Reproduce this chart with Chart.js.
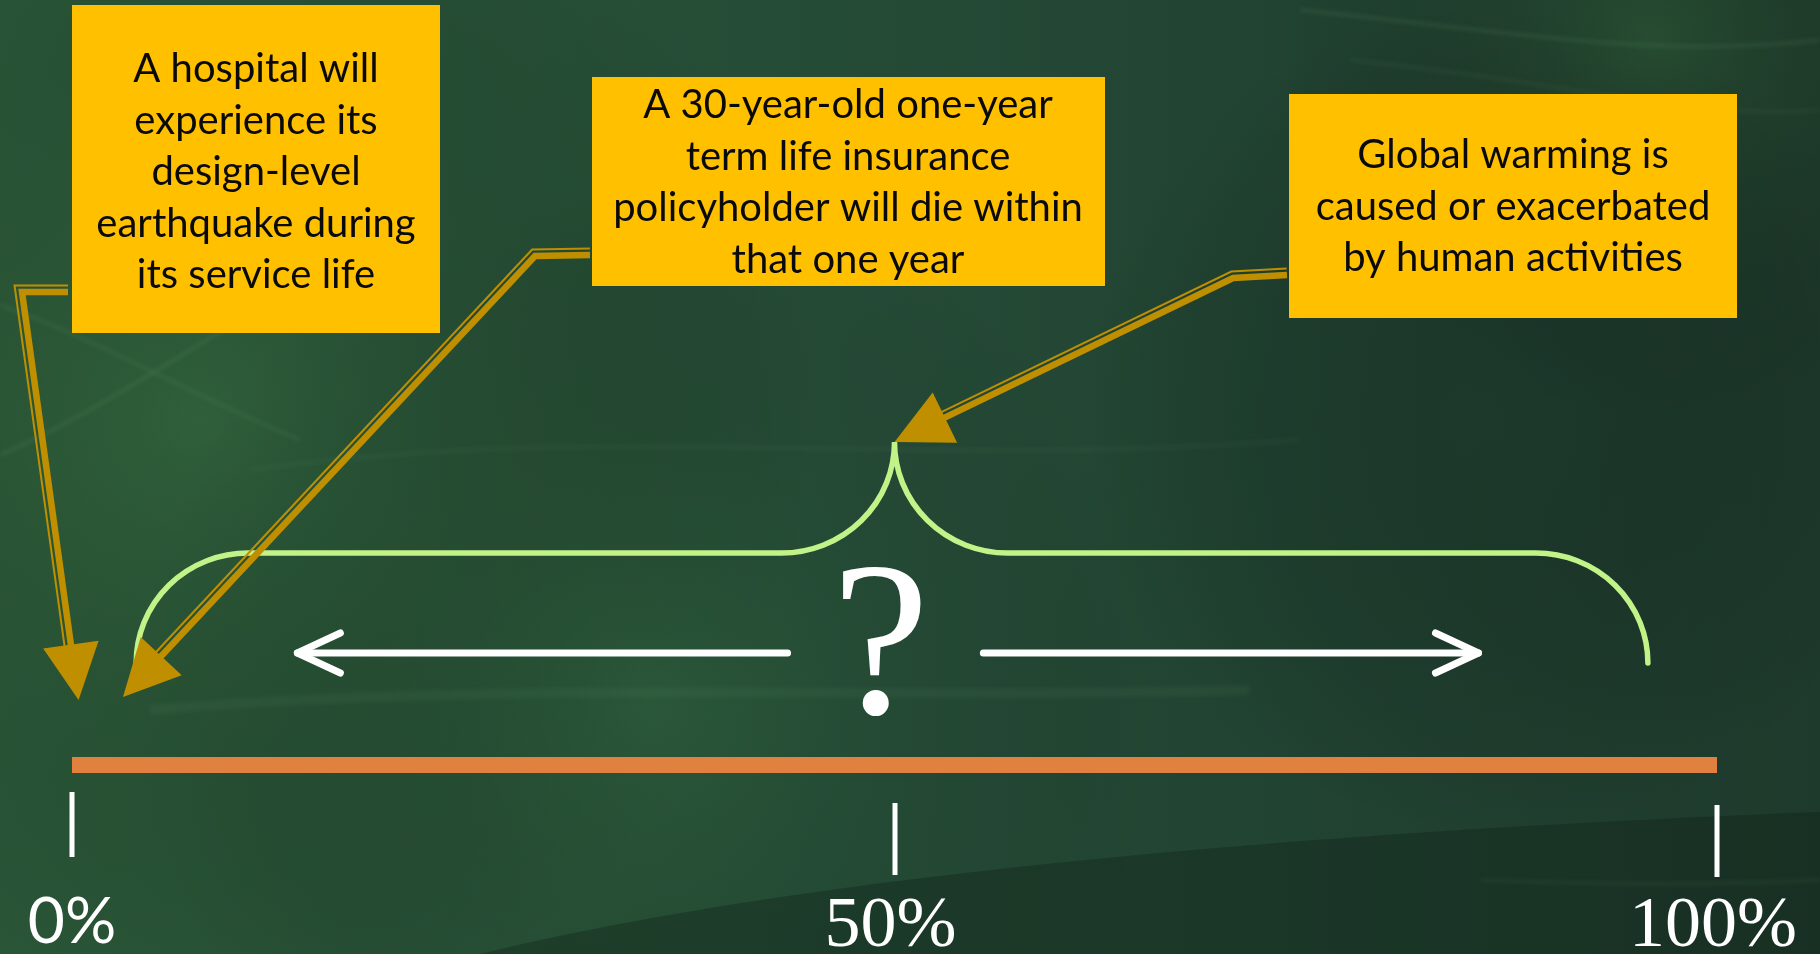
<!DOCTYPE html>
<html>
<head>
<meta charset="utf-8">
<style>
  html, body { margin: 0; padding: 0; background: #213f2f; overflow: hidden; }
  #wrap { width: 1820px; height: 954px; }
</style>
<script src="https://cdn.jsdelivr.net/npm/chart.js@4.4.1/dist/chart.umd.min.js"></script>
</head>
<body>
<div id="wrap"><canvas id="scale" width="1820" height="954"></canvas></div>
<script>
// probability scale, in percent
const scaleRange = [0, 100];
const tickValues = [0, 50, 100];
const tickLabels = ['0%', '50%', '100%'];

// statements and where each one points on the scale
const statements = [
  ['A hospital will', 'experience its', 'design-level', 'earthquake during', 'its service life'],
  ['A 30-year-old one-year', 'term life insurance', 'policyholder will die within', 'that one year'],
  ['Global warming is', 'caused or exacerbated', 'by human activities'],
];
const statementTargets = [0.4, 3.1, 50];

// uncertainty brace and the two spread arrows under it
const braceRange = [3.9, 95.8];
const braceCenter = 50;
const spreadLeft = [43.5, 13.7];
const spreadRight = [55.4, 85.5];

const COLORS = {
  bar: '#E0813F',
  box: '#FFC000',
  gold: '#BF8F00',
  brace: '#C2F388',
  white: '#FFFFFF',
  text: '#0a0a0a',
};

// drawing layout (pixels)
const BOXES = [
  { x: 72,   y: 5,  w: 368, h: 328, cx: 256,  base: 82 },
  { x: 592,  y: 77, w: 513, h: 209, cx: 848,  base: 118 },
  { x: 1289, y: 94, w: 448, h: 224, cx: 1513, base: 168 },
];
const LINE_H = 51.5;
const CONNECTORS = [
  { from: [68, 292],   bend: [22, 292],   tipY: 700 },
  { from: [590, 255],  bend: [535, 256],  tipY: 697 },
  { from: [1287, 275], bend: [1233, 278], tipY: 442 },
];
const BRACE = { endY: 663, flatY: 553, peakY: 442, rEnd: 112, rMid: 113, width: 5.5 };
const SPREAD_Y = 653;
const TICK_MARKS = [[792, 857], [803, 875], [805, 877]];
const TICK_BASE = [943, 946, 946];

function glow(ctx, x, y, r, color) {
  const g = ctx.createRadialGradient(x, y, 0, x, y, r);
  g.addColorStop(0, color);
  g.addColorStop(1, 'rgba(0,0,0,0)');
  ctx.fillStyle = g;
  ctx.fillRect(x - r, y - r, r * 2, r * 2);
}

function streak(ctx, pts, alpha, width) {
  ctx.save();
  ctx.strokeStyle = `rgba(150,210,150,${alpha})`;
  ctx.lineWidth = width;
  ctx.filter = 'blur(2px)';
  ctx.beginPath();
  ctx.moveTo(pts[0], pts[1]);
  ctx.bezierCurveTo(pts[2], pts[3], pts[4], pts[5], pts[6], pts[7]);
  ctx.stroke();
  ctx.restore();
}

const backdrop = {
  id: 'backdrop',
  beforeDraw(chart) {
    const { ctx, width: w, height: h } = chart;
    ctx.save();
    const g = ctx.createLinearGradient(0, 0, w, 0);
    g.addColorStop(0, '#2b5838');
    g.addColorStop(0.5, '#244a36');
    g.addColorStop(1, '#1e3a2c');
    ctx.fillStyle = g;
    ctx.fillRect(0, 0, w, h);
    glow(ctx, 200, 420, 620, 'rgba(58,115,66,0.35)');
    glow(ctx, 650, 700, 520, 'rgba(62,130,74,0.22)');
    glow(ctx, 1650, 40, 380, 'rgba(56,112,58,0.30)');
    glow(ctx, 1500, 420, 420, 'rgba(20,45,35,0.35)');
    // faint light streaks
    streak(ctx, [0, 455, 80, 420, 140, 380, 240, 320], 0.12, 3);
    streak(ctx, [0, 305, 100, 340, 180, 390, 300, 440], 0.10, 3);
    streak(ctx, [250, 470, 600, 420, 900, 470, 1300, 440], 0.06, 4);
    streak(ctx, [1300, 10, 1500, 30, 1650, 60, 1820, 40], 0.12, 3);
    streak(ctx, [1350, 60, 1550, 80, 1700, 120, 1820, 110], 0.08, 3);
    streak(ctx, [150, 710, 500, 680, 900, 700, 1250, 690], 0.06, 10);
    // darker swell along the bottom right
    ctx.fillStyle = 'rgba(12,28,18,0.32)';
    ctx.beginPath();
    ctx.moveTo(480, h);
    ctx.bezierCurveTo(700, 900, 1100, 840, w, 812);
    ctx.lineTo(w, h);
    ctx.closePath();
    ctx.fill();
    streak(ctx, [1480, 880, 1600, 884, 1700, 886, 1820, 880], 0.08, 3);
    ctx.restore();
  },
};

// thick + thin compound line ending in a filled head
function compoundArrow(ctx, pts, color) {
  const n = pts.length;
  const tip = pts[n - 1];
  const prev = pts[n - 2];
  let dx = tip[0] - prev[0], dy = tip[1] - prev[1];
  const len = Math.hypot(dx, dy);
  dx /= len; dy /= len;
  const headLen = 56, headHalf = 28;
  const base = [tip[0] - dx * headLen, tip[1] - dy * headLen];
  const path = pts.slice(0, n - 1).concat([[base[0] + dx * 6, base[1] + dy * 6]]);

  // offset polyline to the right of travel (mitred corners)
  const normals = [];
  for (let i = 0; i < path.length - 1; i++) {
    const ex = path[i + 1][0] - path[i][0], ey = path[i + 1][1] - path[i][1];
    const l = Math.hypot(ex, ey);
    normals.push([-ey / l, ex / l]);
  }
  const offset = (d) => path.map((p, i) => {
    const a = normals[Math.max(0, i - 1)], b = normals[Math.min(normals.length - 1, i)];
    let mx = a[0] + b[0], my = a[1] + b[1];
    const ml = Math.hypot(mx, my);
    mx /= ml; my /= ml;
    const k = d / (mx * b[0] + my * b[1]);
    return [p[0] + mx * k, p[1] + my * k];
  });

  ctx.save();
  ctx.strokeStyle = color;
  ctx.lineJoin = 'miter';
  ctx.lineCap = 'butt';
  const strokePath = (ps, wdt) => {
    ctx.lineWidth = wdt;
    ctx.beginPath();
    ps.forEach((p, i) => (i ? ctx.lineTo(p[0], p[1]) : ctx.moveTo(p[0], p[1])));
    ctx.stroke();
  };
  strokePath(path, 6.5);
  strokePath(offset(6.5), 2);

  ctx.fillStyle = color;
  ctx.beginPath();
  ctx.moveTo(tip[0], tip[1]);
  ctx.lineTo(base[0] - dy * headHalf, base[1] + dx * headHalf);
  ctx.lineTo(base[0] + dy * headHalf, base[1] - dx * headHalf);
  ctx.closePath();
  ctx.fill();
  ctx.restore();
}

function openArrow(ctx, x0, x1, y) {
  const dir = Math.sign(x1 - x0);
  ctx.save();
  ctx.strokeStyle = COLORS.white;
  ctx.lineWidth = 7;
  ctx.lineCap = 'round';
  ctx.lineJoin = 'round';
  ctx.beginPath();
  ctx.moveTo(x0, y);
  ctx.lineTo(x1, y);
  ctx.stroke();
  ctx.beginPath();
  ctx.moveTo(x1 - dir * 43, y - 20);
  ctx.lineTo(x1, y);
  ctx.lineTo(x1 - dir * 43, y + 20);
  ctx.stroke();
  ctx.restore();
}

const annotations = {
  id: 'annotations',
  afterDatasetsDraw(chart) {
    const { ctx } = chart;
    const x = chart.scales.x;
    const px = (v) => x.getPixelForValue(v);

    // tick marks and labels
    ctx.save();
    ctx.fillStyle = COLORS.white;
    ctx.textAlign = 'center';
    ctx.textBaseline = 'alphabetic';
    tickValues.forEach((v, i) => {
      const tx = px(v);
      const [t, b] = TICK_MARKS[i];
      ctx.fillRect(Math.round(tx) - 2.5, t, 5, b - t);
      ctx.font = i === 0 ? '64px Lato, "Noto Sans", sans-serif'
                         : '72px "Liberation Serif", "DejaVu Serif", serif';
      ctx.fillText(tickLabels[i], tx - (i === 0 ? 0 : 4), TICK_BASE[i]);
    });
    ctx.restore();

    // uncertainty brace
    const xl = px(braceRange[0]), xr = px(braceRange[1]), xc = px(braceCenter);
    const B = BRACE;
    ctx.save();
    ctx.strokeStyle = COLORS.brace;
    ctx.lineWidth = B.width;
    ctx.lineCap = 'round';
    const ryEnd = B.endY - B.flatY, ryMid = B.flatY - B.peakY;
    ctx.beginPath();
    ctx.ellipse(xl + B.rEnd, B.endY, B.rEnd, ryEnd, 0, Math.PI, Math.PI * 1.5, false);
    ctx.lineTo(xc - B.rMid, B.flatY);
    ctx.ellipse(xc - B.rMid, B.peakY, B.rMid, ryMid, 0, Math.PI / 2, 0, true);
    ctx.ellipse(xc + B.rMid, B.peakY, B.rMid, ryMid, 0, Math.PI, Math.PI / 2, true);
    ctx.lineTo(xr - B.rEnd, B.flatY);
    ctx.ellipse(xr - B.rEnd, B.endY, B.rEnd, ryEnd, 0, Math.PI * 1.5, Math.PI * 2, false);
    ctx.stroke();
    ctx.restore();

    // spread arrows and the question mark
    openArrow(ctx, px(spreadLeft[0]), px(spreadLeft[1]), SPREAD_Y);
    openArrow(ctx, px(spreadRight[0]), px(spreadRight[1]), SPREAD_Y);
    ctx.save();
    ctx.fillStyle = COLORS.white;
    ctx.font = '220px "Liberation Serif", "DejaVu Serif", serif';
    ctx.textAlign = 'center';
    ctx.fillText('?', xc - 14, 713);
    ctx.restore();

    // connectors from each statement to its point on the scale
    CONNECTORS.forEach((c, i) => {
      compoundArrow(ctx, [c.from, c.bend, [px(statementTargets[i]), c.tipY]], COLORS.gold);
    });

    // statement boxes
    ctx.save();
    ctx.font = '40px Lato, "Noto Sans", sans-serif';
    ctx.textAlign = 'center';
    ctx.textBaseline = 'alphabetic';
    BOXES.forEach((b, i) => {
      ctx.fillStyle = COLORS.box;
      ctx.fillRect(b.x, b.y, b.w, b.h);
      ctx.fillStyle = COLORS.text;
      statements[i].forEach((line, j) => ctx.fillText(line, b.cx, b.base + j * LINE_H));
    });
    ctx.restore();
  },
};

new Chart(document.getElementById('scale'), {
  type: 'bar',
  data: {
    labels: ['probability'],
    datasets: [{
      data: [scaleRange],
      backgroundColor: COLORS.bar,
      borderWidth: 0,
      barPercentage: 1,
      categoryPercentage: 1,
    }],
  },
  options: {
    indexAxis: 'y',
    responsive: false,
    animation: false,
    events: [],
    layout: { padding: { left: 72, right: 103, top: 757, bottom: 181 } },
    plugins: { legend: { display: false }, tooltip: { enabled: false } },
    scales: {
      x: { type: 'linear', min: scaleRange[0], max: scaleRange[1], display: false },
      y: { type: 'category', display: false },
    },
  },
  plugins: [backdrop, annotations],
});
</script>
</body>
</html>
